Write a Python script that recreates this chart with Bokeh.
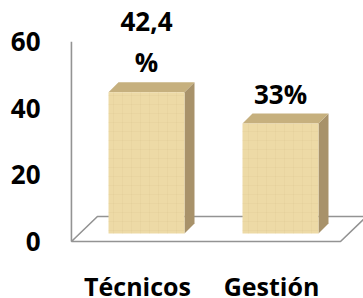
from bokeh.plotting import figure
from bokeh.models import Range1d, FixedTicker, ColumnDataSource
from bokeh.embed import file_html
from bokeh.resources import INLINE
from bokeh.core.properties import value

# ---- data ----
categories = ["Técnicos", "Gestión"]
values = [42.4, 33]
value_labels = ["42,4\n%", "33%"]
y_ticks = [0, 20, 40, 60]

xs = [i + 1 for i in range(len(categories))]

# ---- geometry (screen px -> data units) ----
PX_X = 134.0
PX_Y = 3.33
def dx(px): return px / PX_X
def dy(px): return px / PX_Y

FONT = "Open Sans"
LINE = "#939393"

p = figure(width=363, height=298,
           x_range=Range1d(0.3507, 2.6866), y_range=Range1d(-17.12, 72.37),
           x_axis_location=None,
           output_backend="svg", toolbar_location=None,
           min_border_left=50, min_border_right=0,
           min_border_top=0, min_border_bottom=0)
p.outline_line_color = None
p.grid.visible = False
p.background_fill_color = "white"
p.border_fill_color = "white"

# floor (parallelogram) and wall edge
x0 = xs[0] - 0.493
x1 = xs[-1] + 0.515
fdx, fdy = dx(26), dy(25)
p.patch([x0, x1, x1 + fdx, x0 + fdx], [0, 0, fdy, fdy],
        fill_color="white", line_color=LINE, line_width=1.6)
p.line([x0, x0], [0, max(y_ticks)], line_color=LINE, line_width=1.6)

# bars (3D boxes)
bw = dx(76)
ox, oy = dx(9), dy(8)       # front face offset into depth
ddx, ddy = dx(10), dy(10)   # bar depth
L = [x + ox - bw / 2 for x in xs]
R = [x + ox + bw / 2 for x in xs]
B = [oy for _ in xs]
T = [v + oy for v in values]

# side faces
p.patches([[r, r, r + ddx, r + ddx] for r in R],
          [[b, t, t + ddy, b + ddy] for b, t in zip(B, T)],
          fill_color="#A8926A", line_color=None)
# top faces
p.patches([[l, r, r + ddx, l + ddx] for l, r in zip(L, R)],
          [[t, t, t + ddy, t + ddy] for t in T],
          fill_color="#C6B07E", line_color=None)
# front faces
p.quad(left=L, right=R, bottom=B, top=T, fill_color="#EDDAA6", line_color=None,
       hatch_pattern="+", hatch_color="#D9C48E", hatch_alpha=0.25, hatch_scale=9, hatch_weight=0.8)

# value labels
src = ColumnDataSource(dict(x=[x + ox for x in xs], y=[t + ddy for t in T], text=value_labels))
p.text(x="x", y="y", text="text", source=src, text_align="center", text_baseline="bottom",
       y_offset=-2, text_font=value(FONT), text_font_size="26px", text_font_style="bold",
       text_color="#000000", text_line_height=1.16)

# category labels (under the floor)
csrc = ColumnDataSource(dict(x=xs, y=[dy(-45)] * len(xs), text=categories))
p.text(x="x", y="y", text="text", source=csrc, text_align="center", text_baseline="alphabetic",
       text_font=value(FONT), text_font_size="25px", text_font_style="bold", text_color="#000000")

# y axis
p.yaxis.ticker = FixedTicker(ticks=y_ticks)
p.yaxis.axis_line_color = None
p.yaxis.major_tick_line_color = None
p.yaxis.minor_tick_line_color = None
p.yaxis.major_tick_out = 0
p.yaxis.major_tick_in = 0
p.yaxis.major_label_standoff = 10
p.yaxis.major_label_text_font = FONT
p.yaxis.major_label_text_font_size = "26px"
p.yaxis.major_label_text_font_style = "bold"
p.yaxis.major_label_text_color = "#000000"

open("out.html", "w").write(file_html(p, INLINE))
